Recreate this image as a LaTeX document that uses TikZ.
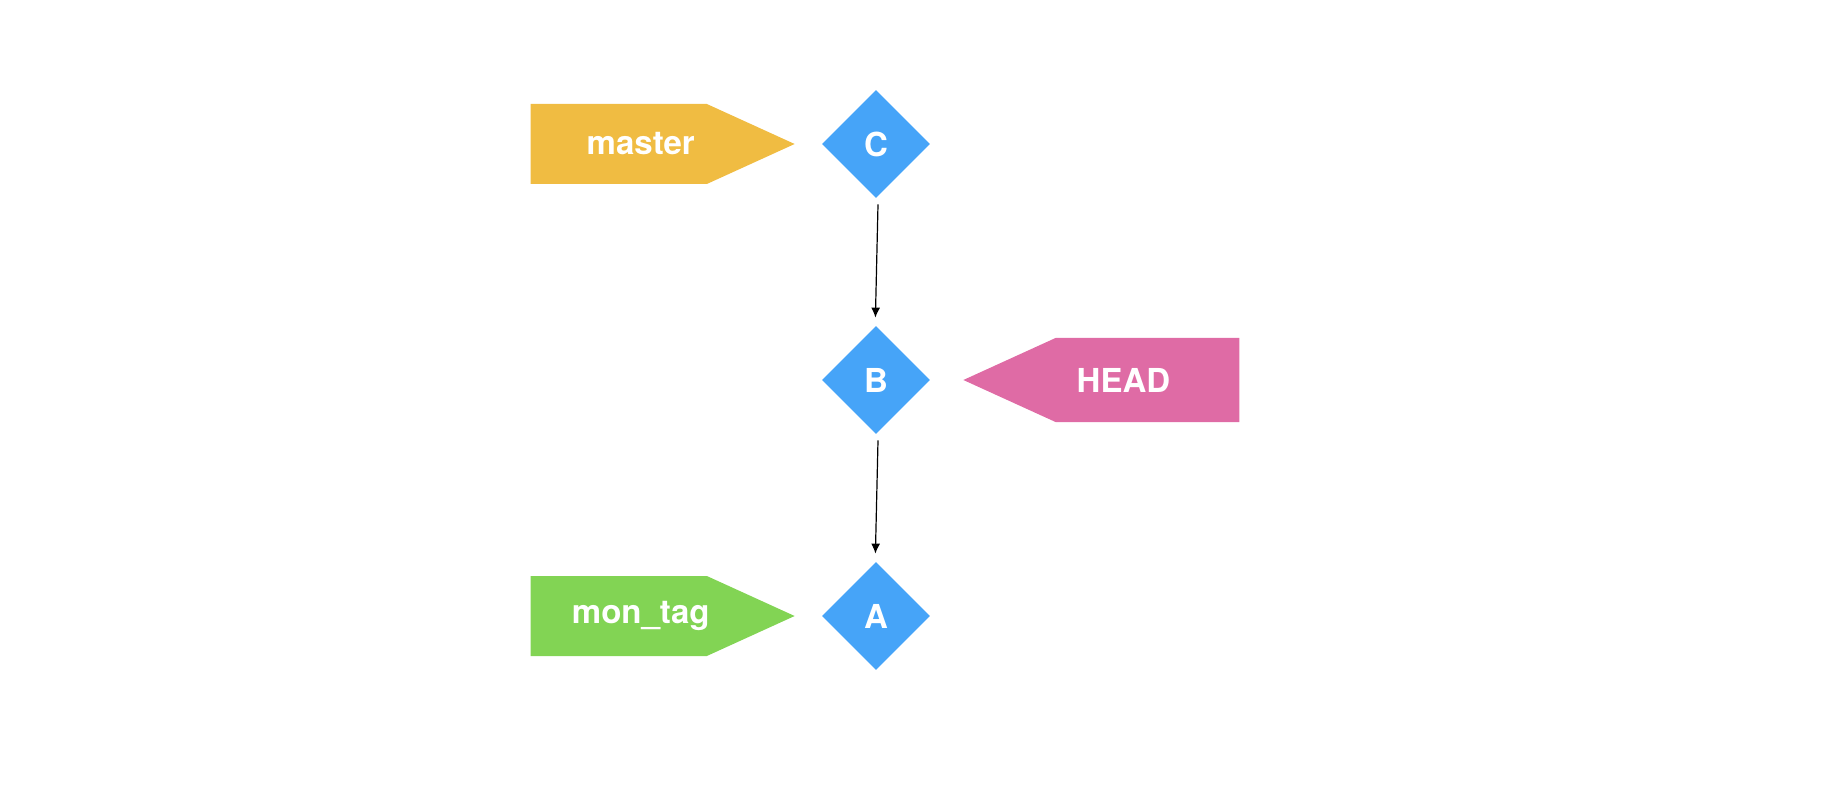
\documentclass[tikz,border=0pt]{standalone}
\usepackage{fontspec}
\setmainfont{TeX Gyre Heros}
\usetikzlibrary{positioning,shapes.geometric,shapes.symbols,arrows.meta}
\definecolor{commitblue}{HTML}{46A4F8}
\definecolor{masteryellow}{HTML}{F0BC42}
\definecolor{headpink}{HTML}{DF6BA5}
\definecolor{taggreen}{HTML}{82D454}
\tikzset{
  reffont/.style={text=white,font=\fontsize{16.5}{20}\selectfont\bfseries},
  commit/.style={diamond,fill=commitblue,reffont,inner sep=0pt,
    minimum width=54pt,minimum height=54pt},
  ref/.style={signal,signal pointer angle=49,inner sep=0pt},
  parent/.style={-{Latex[length=5pt,width=4.5pt]},line width=0.6pt}
}
\begin{document}
\begin{tikzpicture}[x=0.5pt,y=-0.5pt]
      \useasboundingbox (0,0) rectangle (1830,812);
      \draw
        (876,144) node[commit] (C){C}
        (876,380) node[commit] (B){B}
        (876,616) node[commit] (A){A};
      \node[ref,signal to=east,fill=masteryellow,minimum width=132pt,
        minimum height=40pt,left=13pt of C,
        label={[reffont,xshift=11pt]center:master}] (master){};
      \node[ref,signal to=west,fill=headpink,minimum width=138pt,
        minimum height=42pt,right=16pt of B,
        label={[reffont,xshift=-12pt]center:HEAD}] (head){};
      \node[ref,signal to=east,fill=taggreen,minimum width=132pt,
        minimum height=40pt,left=13pt of A,
        label={[reffont,xshift=11pt]center:mon\_tag}] (montag){};
      \begin{scope}[parent]
        \draw ([xshift=1pt,yshift=-3pt]C.south) to ([xshift=-0.3pt,yshift=4pt]B.north);
        \draw ([xshift=1pt,yshift=-3pt]B.south) to ([xshift=-0.3pt,yshift=4pt]A.north);
      \end{scope}
    \end{tikzpicture}
\end{document}
